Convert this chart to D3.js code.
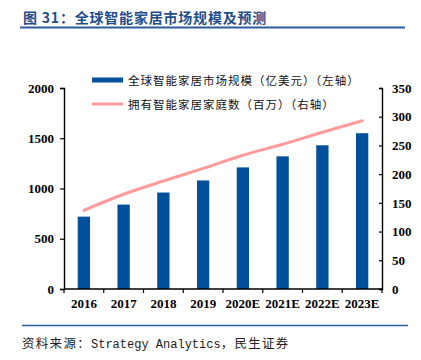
<!DOCTYPE html>
<html><head><meta charset="utf-8">
<script src="https://cdn.jsdelivr.net/npm/d3@7"></script>
<style>
body{margin:0;background:#fff;}
svg{display:block;}
</style></head>
<body>
<script>
const categories = ["2016","2017","2018","2019","2020E","2021E","2022E","2023E"];
const marketSize = [720, 840, 960, 1080, 1210, 1320, 1430, 1550]; // 亿美元, left axis
const households = [137, 165, 188, 210, 233, 252, 273, 293];     // 百万, right axis
const leftTicks = [0, 500, 1000, 1500, 2000];
const rightTicks = [0, 50, 100, 150, 200, 250, 300, 350];
const titleText = "图 31：全球智能家居市场规模及预测";
const legendLabels = ["全球智能家居市场规模（亿美元）（左轴）", "拥有智能家居家庭数（百万）（右轴）"];
const sourceParts = ["资料来源：", "Strategy Analytics", "，民生证券"];

(function () {
const W = 421, H = 360;
const barColor = "#00509B", lineColor = "#FF9B9B", titleColor = "#1F4E8C";
const cjk = "'Noto Sans CJK SC', sans-serif";
const svg = d3.select("body").append("svg").attr("width", W).attr("height", H);

// title
svg.append("text").attr("x", 23).attr("y", 23)
  .attr("font-family", cjk).attr("font-weight", "bold").attr("letter-spacing", 0.8)
  .attr("font-size", 14).attr("fill", titleColor).text(titleText);
svg.append("line").attr("x1", 20).attr("x2", 405).attr("y1", 27.5).attr("y2", 27.5)
  .attr("stroke", "#2B5C9E").attr("stroke-width", 2);

const pL = 64, pR = 382, pT = 88, pB = 289;
const x = d3.scaleBand().domain(categories).range([pL, pR]).paddingInner(0.69).paddingOuter(0.345);
const xb = d3.scaleBand().domain(categories).range([pL, pR]);
const yL = d3.scaleLinear().domain([0, 2000]).range([pB, pT]);
const yR = d3.scaleLinear().domain([0, 350]).range([pB, pT]);

const serif = "'Liberation Serif', 'Times New Roman', serif";

// bars
svg.append("g").selectAll("rect").data(categories).join("rect")
  .attr("x", d => x(d)).attr("width", x.bandwidth())
  .attr("y", (d, i) => yL(marketSize[i])).attr("height", (d, i) => pB - yL(marketSize[i]))
  .attr("fill", barColor);

// line
const line = d3.line().x((d, i) => xb(categories[i]) + xb.bandwidth() / 2).y(d => yR(d)).curve(d3.curveMonotoneX);
svg.append("path").datum(households).attr("d", line)
  .attr("fill", "none").attr("stroke", lineColor).attr("stroke-width", 3).attr("stroke-linecap", "round");

// left axis
const gL = svg.append("g").attr("transform", `translate(${pL},0)`)
  .call(d3.axisLeft(yL).tickValues(leftTicks).tickSize(4).tickPadding(6).tickFormat(d3.format("d")));
// right axis
const gR = svg.append("g").attr("transform", `translate(${pR},0)`)
  .call(d3.axisRight(yR).tickValues(rightTicks).tickSize(-3).tickPadding(10).tickFormat(d3.format("d")));
// x axis
const gX = svg.append("g").attr("transform", `translate(0,${pB})`)
  .call(d3.axisBottom(xb).tickSize(0).tickPadding(10));
const bounds = categories.map(c => xb(c)).concat([pR]);
gX.selectAll(".bt").data(bounds).join("line").attr("class", "bt")
  .attr("x1", d => d).attr("x2", d => d).attr("y1", 0).attr("y2", 4)
  .attr("stroke", "#000").attr("stroke-width", 1.2);

[gL, gR, gX].forEach(g => {
  g.select(".domain").attr("stroke", "#000").attr("stroke-width", 1.4);
  g.selectAll(".tick line").attr("stroke", "#000").attr("stroke-width", 1.2);
  g.selectAll("text").attr("font-family", serif).attr("font-weight", "bold")
    .attr("font-size", 13).attr("fill", "#000");
});
gX.select(".domain").attr("d", `M${pL},0H${pR}`);

// legend
const lg = svg.append("g");
lg.append("rect").attr("x", 92).attr("y", 77.5).attr("width", 31).attr("height", 5).attr("fill", barColor);
lg.append("line").attr("x1", 92).attr("x2", 123).attr("y1", 104).attr("y2", 104)
  .attr("stroke", lineColor).attr("stroke-width", 3);
lg.selectAll("text").data(legendLabels).join("text")
  .attr("x", 128).attr("y", (d, i) => 84.5 + i * 24)
  .attr("font-family", cjk).attr("font-size", 11.5).attr("letter-spacing", 1).attr("fill", "#111")
  .text(d => d);

// footer
svg.append("line").attr("x1", 22).attr("x2", 408).attr("y1", 325.5).attr("y2", 325.5)
  .attr("stroke", "#2B5C9E").attr("stroke-width", 1.5);
const ft = svg.append("text").attr("x", 22).attr("y", 348).attr("fill", "#222");
ft.selectAll("tspan").data(sourceParts).join("tspan")
  .attr("font-family", (d, i) => i === 1 ? "'Liberation Mono', monospace" : cjk)
  .attr("font-size", (d, i) => i === 1 ? 12 : 12.5)
  .attr("letter-spacing", (d, i) => i === 1 ? 0 : 1.3)
  .text(d => d);
})();
</script>
</body></html>
